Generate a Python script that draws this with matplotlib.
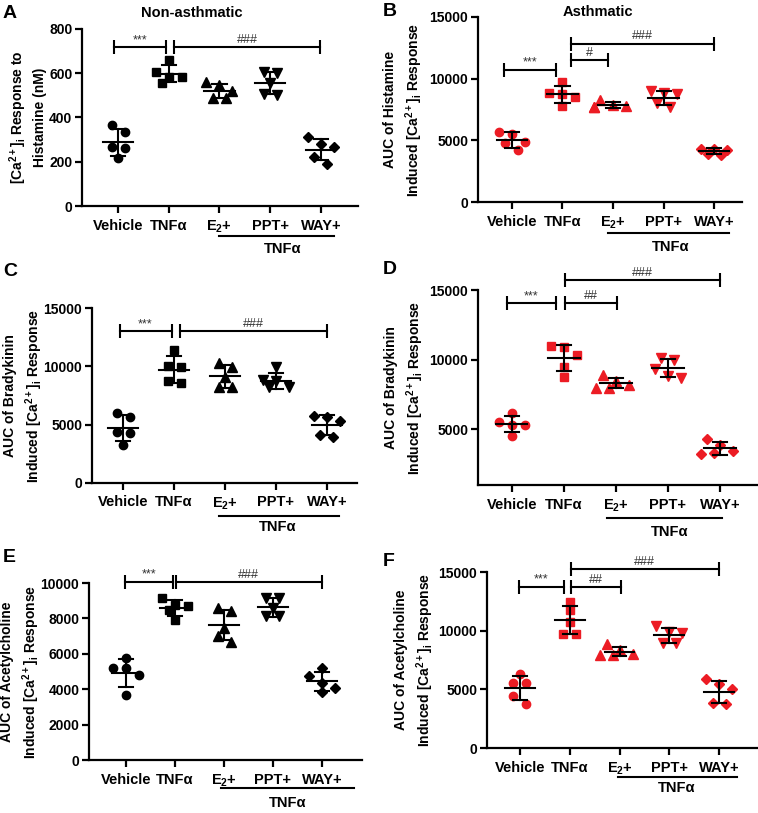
import numpy as np
import matplotlib
matplotlib.use('Agg')
import matplotlib.pyplot as plt
from matplotlib.transforms import blended_transform_factory

plt.rcParams['font.family'] = ['Liberation Sans', 'DejaVu Sans']
plt.rcParams['font.weight'] = 'bold'
plt.rcParams['mathtext.fontset'] = 'custom'
plt.rcParams['mathtext.rm'] = 'Liberation Sans:bold'
plt.rcParams['mathtext.bf'] = 'Liberation Sans:bold'
plt.rcParams['mathtext.it'] = 'Liberation Sans:bold'
plt.rcParams['mathtext.default'] = 'rm'

# ---------------- data ----------------
categories = ['Vehicle', 'TNFα', 'E$_2$+', 'PPT+', 'WAY+']
group_label = 'TNFα'

hist_non = [[366, 333, 268, 260, 215],
            [661, 604, 582, 582, 558],
            [560, 545, 520, 490, 490],
            [604, 601, 558, 502, 507],
            [310, 280, 268, 222, 192]]
hist_asth = [[5710, 5520, 4820, 4900, 4180],
             [9750, 8800, 8750, 8540, 7780],
             [8300, 7900, 7750, 7700, 7700],
             [9000, 8800, 8750, 8000, 7700],
             [4300, 4300, 4250, 3900, 3850]]
brady_non = [[6035, 5690, 4410, 4270, 3270],
             [11400, 10000, 9900, 8700, 8600],
             [10300, 9960, 9110, 8200, 8200],
             [9900, 8800, 8700, 8200, 8200],
             [5640, 5750, 5350, 3930, 4130]]
brady_asth = [[6150, 5530, 5310, 5290, 4520],
              [10980, 10880, 10330, 9500, 8780],
              [8900, 8500, 8200, 8000, 8000],
              [10100, 10000, 9300, 8800, 8700],
              [4280, 3880, 3470, 3210, 3280]]
ach_non = [[5755, 5190, 5190, 4810, 3680],
           [9150, 8770, 8720, 8490, 7925],
           [8585, 8400, 7450, 6980, 6640],
           [9150, 9150, 8585, 8110, 8110],
           [5190, 4720, 4340, 3870, 4060]]
ach_asth = [[6280, 5540, 5540, 4400, 3720],
            [12440, 11730, 10740, 9740, 9740],
            [8835, 8380, 8040, 7900, 7900],
            [10370, 9890, 9800, 8950, 8950],
            [5860, 5430, 5000, 3725, 3810]]

ylabel_a = '[Ca$^{2+}$]$_{i}$ Response to\nHistamine (nM)'
ylabel_b = 'AUC of Histamine\nInduced [Ca$^{2+}$]$_{i}$ Response'
ylabel_c = 'AUC of Bradykinin\nInduced [Ca$^{2+}$]$_{i}$ Response'
ylabel_e = 'AUC of Acetylcholine\nInduced [Ca$^{2+}$]$_{i}$ Response'

# significance brackets: (x start, x end, y level, text)
sig_a = [(-0.07, 0.95, 717, '***'), (1.11, 3.98, 717, '###')]
sig_b = [(-0.15, 0.88, 10690, '***'), (1.17, 1.9, 11500, '#'), (1.17, 4.0, 12850, '###')]
sig_c = [(-0.07, 0.95, 13000, '***'), (1.12, 4.0, 13000, '###')]
sig_d = [(-0.09, 0.84, 14040, '***'), (1.02, 2.02, 14040, '##'), (1.02, 3.99, 15720, '###')]
sig_e = [(-0.02, 0.95, 10040, '***'), (1.01, 4.0, 10040, '###')]
sig_f = [(-0.02, 0.88, 13700, '***'), (1.02, 2.02, 13700, '##'), (1.02, 4.0, 15250, '###')]

W, H = 758, 813
fig = plt.figure(figsize=(W / 100, H / 100), dpi=100)

RED = '#ec1c24'
markers = ['o', 's', '^', 'v', 'D']
msizes = [6, 5.6, 6.5, 6.5, 5]


def scatter_offsets(vals, ax, step=6.5, gap=8.0, min_dist=8.0):
    """GraphPad-like horizontal spreading of points with similar values (pixel space)."""
    tr = ax.transData
    unit_px = tr.transform((1, 0))[0] - tr.transform((0, 0))[0]
    ypx = np.array([tr.transform((0, v))[1] for v in vals])
    order = np.argsort(-ypx, kind='stable')
    groups = []
    for idx in order:
        if groups and len(groups[-1]) < 3 and ypx[groups[-1][-1]] - ypx[idx] < gap:
            groups[-1].append(idx)
        else:
            groups.append([idx])
    init = {}
    for g in groups:
        n = len(g)
        for k, idx in enumerate(g):
            init[idx] = (k - (n - 1) / 2) * 2 * step
    placed = []
    offs = np.zeros(len(vals))
    cands = [k * step for k in range(-3, 4)]
    for idx in order:
        c0 = init[idx]
        for c in sorted(cands + [c0], key=lambda c: (abs(c - c0), abs(c))):
            if all(np.hypot(c - px, ypx[idx] - py) >= min_dist for px, py in placed):
                break
        placed.append((c, ypx[idx]))
        offs[idx] = c / unit_px
    return offs


def panel(px_box, data, color, ylim, yticks, ylabel, ylab_x, sigs, letter,
          letter_xy, under, title=None, title_xy=None):
    left, right, top, bottom = px_box['ax']
    xl = px_box['xlim']
    ax = fig.add_axes([left / W, 1 - bottom / H, (right - left) / W, (bottom - top) / H])
    ax.set_xlim(*xl)
    ax.set_ylim(*ylim)
    ax.spines['top'].set_visible(False)
    ax.spines['right'].set_visible(False)
    for s in ['left', 'bottom']:
        ax.spines[s].set_linewidth(1.6)
    ax.tick_params(direction='out', length=5, width=1.6, labelsize=10, pad=2)
    ax.set_yticks(yticks)
    ax.set_yticklabels([str(t) for t in yticks], fontweight='bold')
    ax.set_xticks(range(len(categories)))
    ax.set_xticklabels(categories, fontsize=10.5, fontweight='bold')
    ax.tick_params(axis='x', pad=4)
    fig.canvas.draw()
    for i, vals in enumerate(data):
        offs = scatter_offsets(vals, ax)
        ax.plot(offs + i, vals, linestyle='none', marker=markers[i],
                ms=msizes[i], color=color, mec=color, zorder=3, clip_on=False)
        m = np.mean(vals)
        sd = np.std(vals, ddof=1)
        ax.plot([i - 0.3, i + 0.3], [m, m], color='black', lw=1.5, zorder=4)
        ax.plot([i, i], [m - sd, m + sd], color='black', lw=1.5, zorder=4)
        ax.plot([i - 0.14, i + 0.14], [m + sd, m + sd], color='black', lw=1.5, zorder=4)
        ax.plot([i - 0.14, i + 0.14], [m - sd, m - sd], color='black', lw=1.5, zorder=4)
    for x0, x1, y, txt in sigs:
        ax.plot([x0, x1], [y, y], color='black', lw=1.5, marker='|', ms=10, mew=1.5,
                clip_on=False)
        ax.annotate(txt, xy=((x0 + x1) / 2, y), xytext=(0, 1), textcoords='offset points',
                    ha='center', va='bottom', fontsize=9, fontweight='normal',
                    color='#333333', annotation_clip=False)
    hpx = bottom - top
    tr = blended_transform_factory(ax.transData, ax.transAxes)
    ux0, ux1, line_off, lab_x, lab_off = under
    ax.plot([ux0, ux1], [-line_off / hpx] * 2, color='black', lw=1.5, transform=tr,
            clip_on=False)
    ax.text(lab_x, -lab_off / hpx, group_label, transform=tr, ha='center', va='center',
            fontsize=10.5, fontweight='bold')
    cy = (top + bottom) / 2
    fig.text(ylab_x / W, 1 - cy / H, ylabel, rotation=90, ha='center', va='center',
             fontsize=10, fontweight='bold', linespacing=1.35)
    fig.text(letter_xy[0] / W, 1 - letter_xy[1] / H, letter, fontsize=14,
             fontweight='bold', ha='left', va='center')
    if title:
        fig.text(title_xy[0] / W, 1 - title_xy[1] / H, title, fontsize=10.5,
                 fontweight='bold', ha='center', va='center')
    return ax


panel({'ax': (82, 358, 29, 206), 'xlim': (-0.71, 4.73)}, hist_non, 'black',
      (0, 800), [0, 200, 400, 600, 800], ylabel_a, 27, sig_a, 'A', (3, 13),
      (2.0, 4.25, 30, 3.25, 43), title='Non-asthmatic', title_xy=(192, 13))
panel({'ax': (478, 742, 17, 202), 'xlim': (-0.67, 4.55)}, hist_asth, RED,
      (0, 15000), [0, 5000, 10000, 15000], ylabel_b, 404, sig_b, 'B', (383, 11),
      (1.9, 4.3, 31, 3.13, 45), title='Asthmatic', title_xy=(598, 12))
panel({'ax': (92, 357, 308, 483), 'xlim': (-0.61, 4.59)}, brady_non, 'black',
      (0, 15000), [0, 5000, 10000, 15000], ylabel_c, 24, sig_c, 'C', (3, 272),
      (1.89, 4.24, 33, 3.04, 44))
panel({'ax': (478, 757, 290, 485), 'xlim': (-0.65, 4.71)}, brady_asth, RED,
      (1000, 15000), [5000, 10000, 15000], ylabel_c, 405, sig_d, 'D', (383, 270),
      (1.83, 4.03, 33, 3.04, 47))
panel({'ax': (89, 362, 583, 760), 'xlim': (-0.76, 4.82)}, ach_non, 'black',
      (0, 10000), [0, 2000, 4000, 6000, 8000, 10000], ylabel_e, 21, sig_e, 'E', (3, 557),
      (1.93, 4.66, 28, 3.3, 43))
panel({'ax': (487, 757, 572, 748), 'xlim': (-0.66, 4.76)}, ach_asth, RED,
      (0, 15000), [0, 5000, 10000, 15000], ylabel_e, 415, sig_f, 'F', (383, 561),
      (1.96, 4.36, 29, 3.15, 40))

fig.savefig('out.png', dpi=100)
